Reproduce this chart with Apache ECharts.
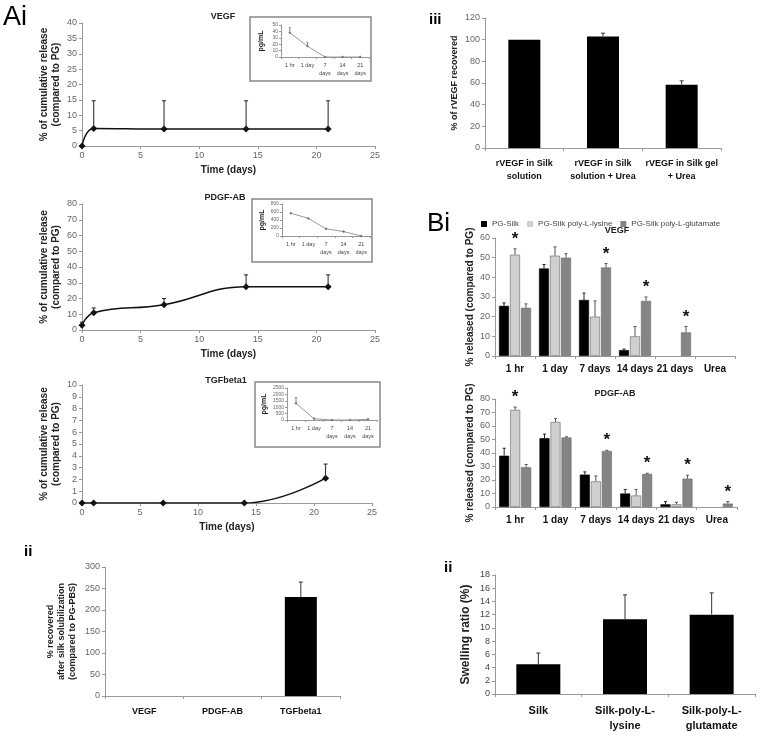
<!DOCTYPE html>
<html><head><meta charset="utf-8">
<script src="https://cdn.jsdelivr.net/npm/echarts/dist/echarts.min.js"></script>
<style>html,body{margin:0;padding:0;background:#fff}#c{width:762px;height:740px}</style>
</head><body><div id="c"></div>
<script>
// ---------- DATA ----------
const timeDays = [0, 1, 7, 14, 21];
const vegfRelease = [0, 5.7, 5.5, 5.5, 5.5];
const vegfReleaseErrTop = [0, 14.7, 14.7, 14.7, 14.7];
const pdgfRelease = [3, 11, 16, 27.5, 27.5];
const pdgfReleaseErrTop = [5, 14, 20, 35, 35];
const tgfRelease = [0, 0, 0, 0, 2.1];
const tgfReleaseErrTop = [0, 0, 0, 0, 3.3];

const insetCats = ['1 hr', '1 day', '7\ndays', '14\ndays', '21\ndays'];
const vegfInset = [38, 17, 0, 0, 0];
const vegfInsetErrTop = [46, 23, 0, 0, 0];
const pdgfInset = [570, 440, 180, 110, 0];
const pdgfInsetErrTop = [570, 440, 180, 110, 0];
const tgfInset = [1300, 100, 0, 0, 50];
const tgfInsetErrTop = [1750, 150, 0, 0, 80];

const recovCats = ['VEGF', 'PDGF-AB', 'TGFbeta1'];
const recovVals = [0, 0, 230];
const recovErrTop = [0, 0, 265];

const rvegfCats = ['rVEGF in Silk\nsolution', 'rVEGF in Silk\nsolution + Urea', 'rVEGF in Silk gel\n+ Urea'];
const rvegfVals = [100, 103, 58.5];
const rvegfErrTop = [100, 106, 62];

const relCats = ['1 hr', '1 day', '7 days', '14 days', '21 days', 'Urea'];
const groupNames = ['PG-Silk', 'PG-Silk poly-L-lysine', 'PG-Silk poly-L-glutamate'];
const vegfSilk = [25.5, 44.5, 28.5, 3, 0, 0];
const vegfLys = [51.5, 51, 20, 10, 0, 0];
const vegfGlu = [24.5, 50, 45, 28, 12, 0];
const vegfSilkErrTop = [27, 46.5, 32, 3.5, 0, 0];
const vegfLysErrTop = [54.5, 55.5, 28, 15, 0, 0];
const vegfGluErrTop = [26.5, 52, 47, 30, 15, 0];
const vegfLysStar = [1, 0, 0, 0, 0, 0];
const vegfGluStar = [0, 0, 1, 1, 1, 0];
const pdgfSilk = [38, 51, 24, 10, 2, 0];
const pdgfLys = [72, 63, 19, 8.5, 2, 0];
const pdgfGlu = [29.5, 51.5, 41.5, 24.5, 21, 2.5];
const pdgfSilkErrTop = [43.5, 54, 26, 13, 4, 0];
const pdgfLysErrTop = [74, 65.5, 23, 13, 3.5, 0];
const pdgfGluErrTop = [31.5, 52, 42, 25, 23.5, 4];
const pdgfLysStar = [1, 0, 0, 0, 0, 0];
const pdgfGluStar = [0, 0, 1, 1, 1, 1];

const swellCats = ['Silk', 'Silk-poly-L-\nlysine', 'Silk-poly-L-\nglutamate'];
const swellVals = [4.5, 11.3, 12];
const swellErrTop = [6.2, 15, 15.3];

// ---------- BUILD ----------
const FONT = '"Liberation Sans", Arial, sans-serif';
const grids = [], xAxes = [], yAxes = [], series = [], graphics = [];
function addGrid(left, top, width, height) {
  grids.push({left, top, width, height, show: false});
  return grids.length - 1;
}
const AX = '#999';
function valueAxis(gi, min, max, interval, o) {
  o = o || {};
  return Object.assign({
    type: 'value', gridIndex: gi, min, max, interval,
    axisLine: {show: true, lineStyle: {color: AX, width: 1}},
    axisTick: {show: true, length: 3, lineStyle: {color: AX}},
    axisLabel: {fontSize: 9, color: '#666', margin: 5, fontFamily: FONT},
    splitLine: {show: false}
  }, o);
}
function catAxis(gi, data, o) {
  o = o || {};
  return Object.assign({
    type: 'category', gridIndex: gi, data,
    axisLine: {show: true, lineStyle: {color: AX, width: 1}},
    axisTick: {show: true, length: 3, lineStyle: {color: AX}},
    axisLabel: {fontSize: 9, color: '#111', fontWeight: 'bold', margin: 8, fontFamily: FONT, interval: 0, lineHeight: 12},
    splitLine: {show: false}
  }, o);
}
function nameStyle(size) {
  return {fontSize: size, fontWeight: 'bold', color: '#222', fontFamily: FONT, lineHeight: size + 2};
}
function errRender(offset, color, cap) {
  return function (params, api) {
    const x = api.value(0), v = api.value(1), t = api.value(2), star = api.value(3);
    const kids = [];
    const p0 = api.coord([x, v]), p1 = api.coord([x, t]);
    const cx = p0[0] + offset;
    if (t > v) {
      kids.push({type: 'line', shape: {x1: cx, y1: p0[1], x2: cx, y2: p1[1]}, style: {stroke: color, lineWidth: 1}});
      kids.push({type: 'line', shape: {x1: cx - cap, y1: p1[1], x2: cx + cap, y2: p1[1]}, style: {stroke: color, lineWidth: 1}});
    }
    if (star === 1) {
      kids.push({type: 'text', x: cx, y: p1[1] - 1, style: {text: '*', fontSize: 17, fontWeight: 'bold', fontFamily: FONT, fill: '#111', align: 'center', verticalAlign: 'bottom'}});
    }
    return {type: 'group', children: kids};
  };
}
function addErr(ai, xs, vals, tops, offset, color, cap, stars) {
  series.push({
    type: 'custom', xAxisIndex: ai, yAxisIndex: ai, z: 5,
    renderItem: errRender(offset, color, cap),
    data: vals.map((v, i) => [xs[i], v, tops[i], stars ? stars[i] : 0]),
    silent: true
  });
}
function text(x, y, t, size, weight, color, align) {
  graphics.push({type: 'text', x, y, z: 10, style: {text: t, fontSize: size, fontWeight: weight || 'normal', fontFamily: FONT, fill: color || '#111', align: align || 'center', verticalAlign: 'middle'}});
}
function box(x, y, w, h) {
  graphics.push({type: 'rect', z: 1, shape: {x, y, width: w, height: h}, style: {fill: 'none', stroke: '#888', lineWidth: 1.5}});
}

// ---- Release line charts (Ai) ----
const ylabName = '% of cumulative release\n(compared to PG)';
function releasePanel(left, top, w, h, ymax, yint, vals, tops, title, titleX, titleY) {
  const gi = addGrid(left, top, w, h);
  xAxes.push(valueAxis(gi, 0, 25, 5, {name: 'Time (days)', nameLocation: 'middle', nameGap: 18, nameTextStyle: nameStyle(10)}));
  yAxes.push(valueAxis(gi, 0, ymax, yint, {name: ylabName, nameLocation: 'middle', nameGap: 20, nameTextStyle: nameStyle(10)}));
  series.push({type: 'line', xAxisIndex: gi, yAxisIndex: gi, smooth: 0.45, symbol: 'diamond', symbolSize: 7,
    lineStyle: {color: '#111', width: 1.5}, itemStyle: {color: '#111'},
    data: timeDays.map((t, i) => [t, vals[i]])});
  addErr(gi, timeDays, vals, tops, 0, '#222', 2);
  text(titleX, titleY, title, 9, 'bold', '#222');
}
releasePanel(82, 23, 293, 123, 40, 5, vegfRelease, vegfReleaseErrTop, 'VEGF', 223, 17);
releasePanel(82, 204, 293, 126, 80, 10, pdgfRelease, pdgfReleaseErrTop, 'PDGF-AB', 225, 198);
releasePanel(82, 385, 290, 118, 10, 1, tgfRelease, tgfReleaseErrTop, 'TGFbeta1', 226, 381);

// ---- insets ----
function inset(bx, by, bw, bh, left, top, w, h, ymax, yint, vals, tops) {
  box(bx, by, bw, bh);
  const gi = addGrid(left, top, w, h);
  const idx = vals.map((v, i) => i);
  xAxes.push(catAxis(gi, insetCats, {axisLabel: {fontSize: 5.5, color: '#444', margin: 4, interval: 0, lineHeight: 8, fontFamily: FONT},
    axisTick: {show: true, length: 2, lineStyle: {color: AX}}}));
  yAxes.push(valueAxis(gi, 0, ymax, yint, {axisLabel: {fontSize: 5, color: '#666', margin: 3, fontFamily: FONT, formatter: v => String(v)},
    axisTick: {show: true, length: 2, lineStyle: {color: AX}},
    name: 'pg/mL', nameLocation: 'middle', nameGap: 15, nameTextStyle: nameStyle(7)}));
  series.push({type: 'line', xAxisIndex: gi, yAxisIndex: gi, symbol: 'diamond', symbolSize: 3,
    lineStyle: {color: '#999', width: 1}, itemStyle: {color: '#777'}, data: vals});
  addErr(gi, idx, vals, tops, 0, '#888', 1);
}
inset(250, 17, 121, 64, 281, 25, 88, 32, 50, 10, vegfInset, vegfInsetErrTop);
inset(252, 199, 120, 63, 282, 204, 88, 32, 800, 200, pdgfInset, pdgfInsetErrTop);
inset(255, 382, 125, 65, 287, 388, 90, 32, 2500, 500, tgfInset, tgfInsetErrTop);

// ---- simple bar panels ----
function barPanel(left, top, w, h, cats, vals, tops, ymax, yint, name, nameGap, nameSize, barW, labSize, ylabColor) {
  const gi = addGrid(left, top, w, h);
  xAxes.push(catAxis(gi, cats, {axisLabel: {fontSize: labSize, color: '#111', fontWeight: 'bold', margin: 9, interval: 0, lineHeight: labSize + 4, fontFamily: FONT}}));
  yAxes.push(valueAxis(gi, 0, ymax, yint, {axisLabel: {fontSize: 9, color: ylabColor || '#666', margin: 5, fontFamily: FONT},
    name, nameLocation: 'middle', nameGap, nameTextStyle: nameStyle(nameSize)}));
  series.push({type: 'bar', xAxisIndex: gi, yAxisIndex: gi, barWidth: barW, itemStyle: {color: '#000'}, data: vals});
  addErr(gi, cats.map((c, i) => i), vals, tops, 0, '#333', 2);
}
barPanel(105, 567, 235, 129, recovCats, recovVals, recovErrTop, 300, 50,
  '% recovered\nafter silk solubilization\n(compared to PG-PBS)', 27, 9, 32, 9);
barPanel(485, 18, 236, 130, rvegfCats, rvegfVals, rvegfErrTop, 120, 20,
  '% of rVEGF recovered', 25, 9, 32, 9);
barPanel(495, 575, 260, 119, swellCats, swellVals, swellErrTop, 18, 2,
  'Swelling ratio (%)', 22, 12, 44, 11, '#444');

// ---- grouped bar panels (Bi) ----
const groupColors = ['#000', '#cfcfcf', '#858585'];
function groupPanel(left, top, w, h, ymax, arrs, tops, stars, title, titleX, titleY) {
  const gi = addGrid(left, top, w, h);
  xAxes.push(catAxis(gi, relCats, {axisLabel: {fontSize: 10, color: '#111', fontWeight: 'bold', margin: 8, interval: 0, fontFamily: FONT}}));
  yAxes.push(valueAxis(gi, 0, ymax, 10, {name: '% released (compared to PG)', nameLocation: 'middle', nameGap: 14, nameTextStyle: nameStyle(10)}));
  const offs = [-11, 0, 11];
  arrs.forEach((a, k) => {
    series.push({type: 'bar', name: groupNames[k], xAxisIndex: gi, yAxisIndex: gi, barWidth: 10, barGap: '10%',
      itemStyle: {color: groupColors[k]},
      data: a.map(v => v > 0 ? {value: v, itemStyle: {borderColor: k ? '#666' : '#000', borderWidth: 0.6}} : {value: v})});
  });
  arrs.forEach((a, k) => addErr(gi, relCats.map((c, i) => i), a, tops[k], offs[k], k ? '#555' : '#222', 1.5, stars[k]));
  text(titleX, titleY, title, 9, 'bold', '#222');
}
groupPanel(495, 238, 240, 118, 60, [vegfSilk, vegfLys, vegfGlu], [vegfSilkErrTop, vegfLysErrTop, vegfGluErrTop],
  [null, vegfLysStar, vegfGluStar], 'VEGF', 617, 231);
groupPanel(495, 399, 242, 108, 80, [pdgfSilk, pdgfLys, pdgfGlu], [pdgfSilkErrTop, pdgfLysErrTop, pdgfGluErrTop],
  [null, pdgfLysStar, pdgfGluStar], 'PDGF-AB', 615, 394);

// ---- panel letters ----
text(3, 18, 'Ai', 27, 'normal', '#000', 'left');
text(427, 224, 'Bi', 26, 'normal', '#000', 'left');
text(429, 20, 'iii', 15, 'bold', '#000', 'left');
text(24, 552, 'ii', 15, 'bold', '#000', 'left');
text(444, 568, 'ii', 15, 'bold', '#000', 'left');

const chart = echarts.init(document.getElementById('c'));
chart.setOption({
  animation: false,
  backgroundColor: '#fff',
  textStyle: {fontFamily: FONT},
  legend: {data: groupNames, left: 481, top: 220, itemWidth: 6, itemHeight: 6, itemGap: 8,
    icon: 'rect', textStyle: {fontSize: 8, color: '#444', fontFamily: FONT}, padding: 0},
  grid: grids, xAxis: xAxes, yAxis: yAxes, series, graphic: graphics
});
</script></body></html>
